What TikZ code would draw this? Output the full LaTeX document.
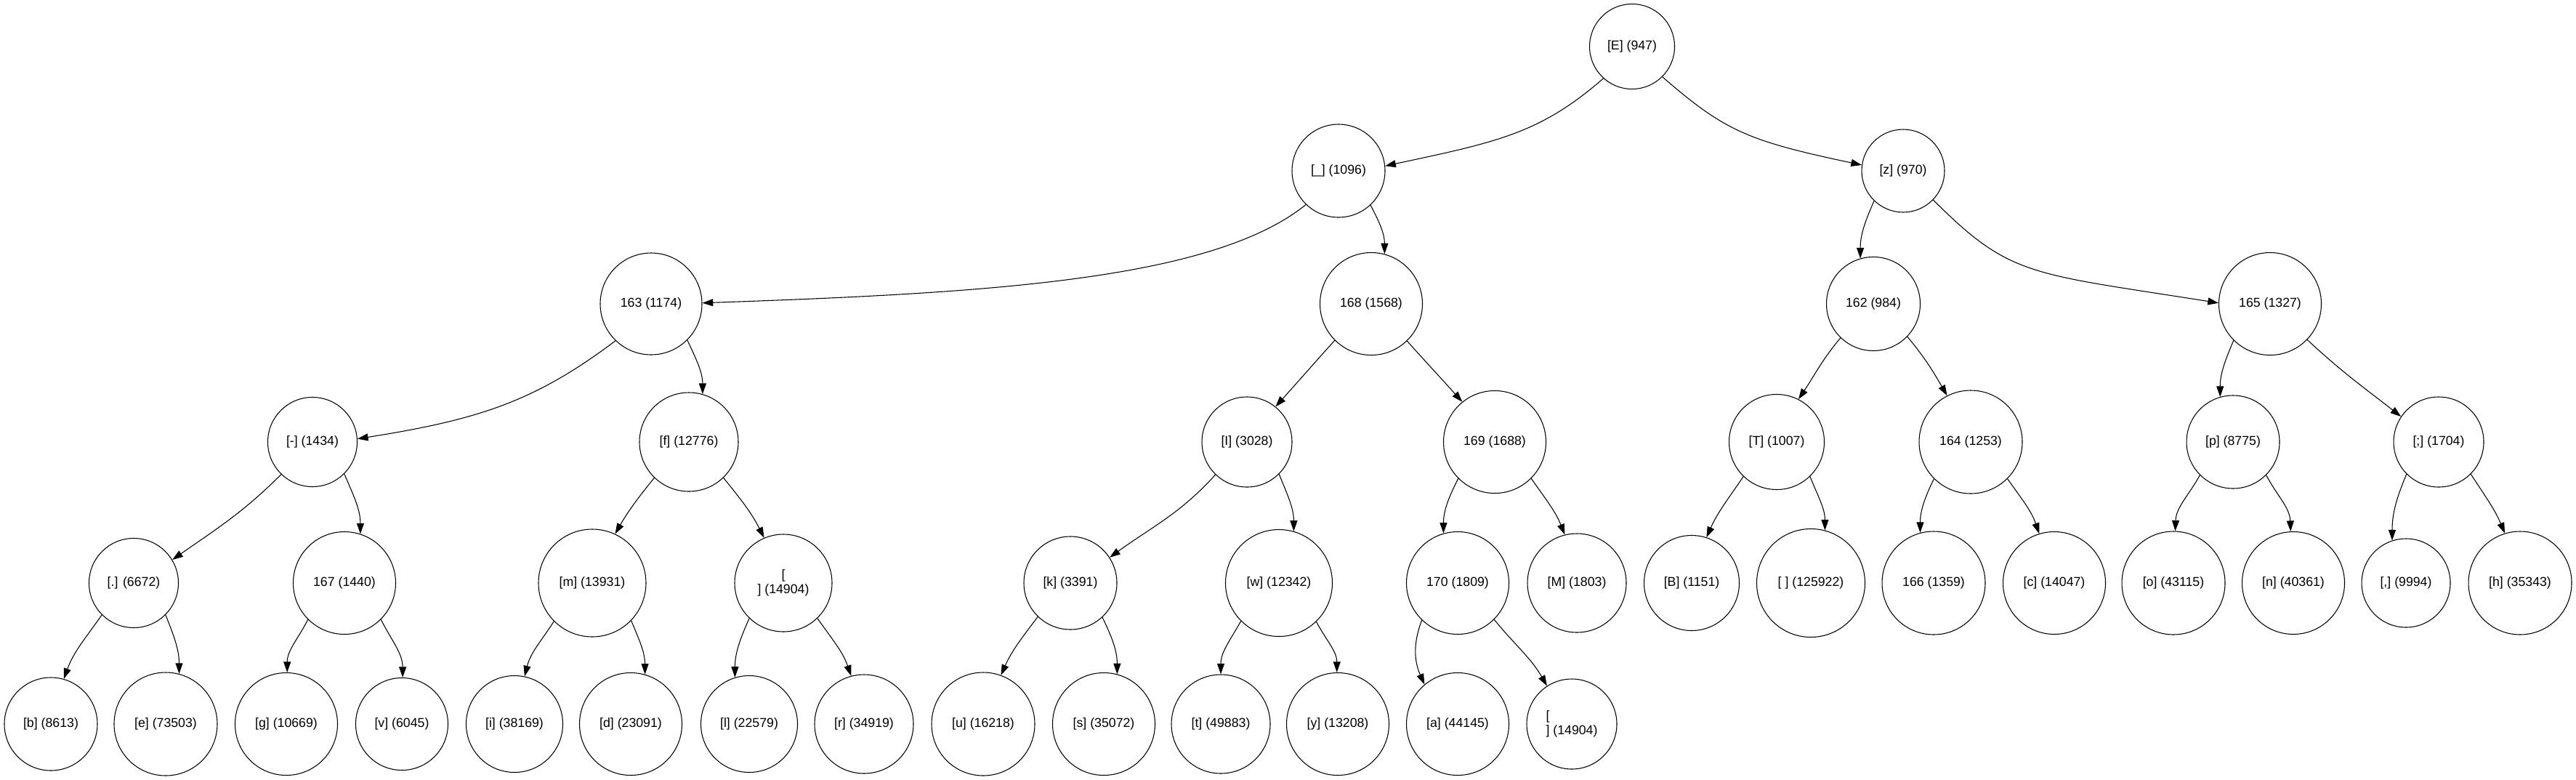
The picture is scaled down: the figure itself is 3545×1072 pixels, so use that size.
\documentclass[tikz,border=0pt]{standalone}
\usepackage{fontspec}
\setmainfont{Liberation Sans}
\usetikzlibrary{arrows.meta}
\begin{document}
\begin{tikzpicture}[x=0.75pt,y=0.75pt,
  hnode/.style={circle,draw,line width=0.8pt,inner sep=0pt,minimum size=#1*0.75pt,font=\fontsize{13.3}{14.5}\selectfont},
  edge/.style={line width=0.8pt,-{Triangle[length=11pt,width=7.5pt]}}]
\useasboundingbox (0,0) rectangle (3545,-1072);
\node[hnode=117] at (2246,-64) (E) {[E] (947)};
\node[hnode=128] at (1842,-235) (us) {[\_] (1096)};
\node[hnode=114] at (2619,-235) (z) {[z] (970)};
\node[hnode=140] at (896,-418) (n163) {163 (1174)};
\node[hnode=141] at (1887,-418) (n168) {168 (1568)};
\node[hnode=129] at (2578,-418) (n162) {162 (984)};
\node[hnode=141] at (3124,-418) (n165) {165 (1327)};
\node[hnode=123] at (430,-608) (nminus) {[-] (1434)};
\node[hnode=136] at (948,-608) (nf) {[f] (12776)};
\node[hnode=124] at (1716,-608) (nI) {[I] (3028)};
\node[hnode=141] at (2057,-608) (n169) {169 (1688)};
\node[hnode=131] at (2445,-608) (nT) {[T] (1007)};
\node[hnode=142] at (2712,-608) (n164) {164 (1253)};
\node[hnode=128] at (3073,-608) (np) {[p] (8775)};
\node[hnode=124] at (3356,-608) (nsemi) {[;] (1704)};
\node[hnode=123] at (184,-802) (ndot) {[.] (6672)};
\node[hnode=141] at (474,-802) (n167) {167 (1440)};
\node[hnode=148] at (815,-802) (nm) {[m] (13931)};
\node[hnode=134,align=center] at (1078,-802) (nnlA) {[\\] (14904)};
\node[hnode=128] at (1473,-802) (nk) {[k] (3391)};
\node[hnode=147] at (1760,-802) (nw) {[w] (12342)};
\node[hnode=141] at (2006,-802) (n170) {170 (1809)};
\node[hnode=136] at (2170,-802) (nM) {[M] (1803)};
\node[hnode=131] at (2328,-802) (nB) {[B] (1151)};
\node[hnode=149] at (2492,-802) (nsp) {[ ] (125922)};
\node[hnode=142] at (2661,-802) (n166) {166 (1359)};
\node[hnode=141] at (2827,-802) (nc) {[c] (14047)};
\node[hnode=142] at (2991,-802) (no) {[o] (43115)};
\node[hnode=141] at (3156,-802) (nn) {[n] (40361)};
\node[hnode=122] at (3311,-802) (ncomma) {[,] (9994)};
\node[hnode=142] at (3468,-802) (nh) {[h] (35343)};
\node[hnode=128] at (70,-996) (nb) {[b] (8613)};
\node[hnode=142] at (228,-996) (ne) {[e] (73503)};
\node[hnode=141] at (394,-996) (ng) {[g] (10669)};
\node[hnode=127] at (553,-996) (nv) {[v] (6045)};
\node[hnode=133] at (708,-996) (ni) {[i] (38169)};
\node[hnode=141] at (868,-996) (nd) {[d] (23091)};
\node[hnode=133] at (1031,-996) (nl) {[l] (22579)};
\node[hnode=136] at (1189,-996) (nr) {[r] (34919)};
\node[hnode=142] at (1353,-996) (nu) {[u] (16218)};
\node[hnode=141] at (1519,-996) (ns) {[s] (35072)};
\node[hnode=136] at (1680,-996) (nt) {[t] (49883)};
\node[hnode=141] at (1841,-996) (ny) {[y] (13208)};
\node[hnode=141] at (2006,-996) (na) {[a] (44145)};
\node[hnode=124,align=left] at (2163,-996) (nnlB) {[\\] (14904)};
\draw[edge] (E.228) .. controls +(221:115) and +(12:159) .. (us.6);
\draw[edge] (E.315) .. controls +(319:115) and +(168:159) .. (z.172);
\draw[edge] (us.226) .. controls +(219:166) and +(2:390) .. (n163.1);
\draw[edge] (us.313) to[out=298,in=90] (n168.75);
\draw[edge] (z.226) to[out=246,in=90] (n162.106);
\draw[edge] (z.316) .. controls +(315:150) and +(171:264) .. (n165.179);
\draw[edge] (n163.226) .. controls +(217:139) and +(9:169) .. (nminus.4);
\draw[edge] (n163.315) to[out=295,in=90] (nf.74);
\draw[edge] (n168.225) to[out=228,in=48] (nI.51);
\draw[edge] (n168.314) to[out=312,in=132] (n169.129);
\draw[edge] (n162.226) to[out=230,in=56] (nT.63);
\draw[edge] (n162.316) to[out=310,in=120] (n164.117);
\draw[edge] (n165.225) to[out=247,in=90] (np.106);
\draw[edge] (n165.316) to[out=317,in=142] (nsemi.146);
\draw[edge] (nminus.226) to[out=225,in=35] (ndot.31);
\draw[edge] (nminus.315) to[out=293,in=90] (n167.72);
\draw[edge] (nf.226) to[out=231,in=60] (nm.65);
\draw[edge] (nf.314) to[out=309,in=117] (nnlA.113);
\draw[edge] (nI.226) to[out=228,in=36] (nk.33);
\draw[edge] (nI.315) to[out=292,in=90] (nw.74);
\draw[edge] (n169.225) to[out=243,in=90] (n170.106);
\draw[edge] (n169.315) to[out=305,in=112] (nM.104);
\draw[edge] (nT.226) to[out=236,in=66] (nB.72);
\draw[edge] (nT.314) to[out=292,in=90] (nsp.75);
\draw[edge] (n164.225) to[out=244,in=90] (n166.105);
\draw[edge] (n164.315) to[out=305,in=109] (nc.107);
\draw[edge] (np.225) to[out=241,in=88] (no.88);
\draw[edge] (np.315) to[out=298,in=92] (nn.93);
\draw[edge] (nsemi.225) to[out=247,in=90] (ncomma.108);
\draw[edge] (nsemi.315) to[out=303,in=113] (nh.107);
\draw[edge] (ndot.225) to[out=235,in=70] (nb.74);
\draw[edge] (ndot.315) to[out=292,in=90] (ne.75);
\draw[edge] (n167.225) to[out=243,in=90] (ng.89);
\draw[edge] (n167.315) to[out=297,in=90] (nv.89);
\draw[edge] (nm.225) to[out=237,in=76] (ni.78);
\draw[edge] (nm.316) to[out=293,in=90] (nd.74);
\draw[edge] (nnlA.226) to[out=246,in=90] (nl.107);
\draw[edge] (nnlA.314) to[out=305,in=109] (nr.105);
\draw[edge] (nk.226) to[out=233,in=66] (nu.70);
\draw[edge] (nk.313) to[out=296,in=90] (ns.75);
\draw[edge] (nw.225) to[out=241,in=90] (nt.90);
\draw[edge] (nw.314) to[out=298,in=90] (ny.91);
\draw[edge] (n170.226) to[out=249,in=114] (na.130);
\draw[edge] (n170.315) to[out=309,in=120] (nnlB.123);
\end{tikzpicture}
\end{document}
